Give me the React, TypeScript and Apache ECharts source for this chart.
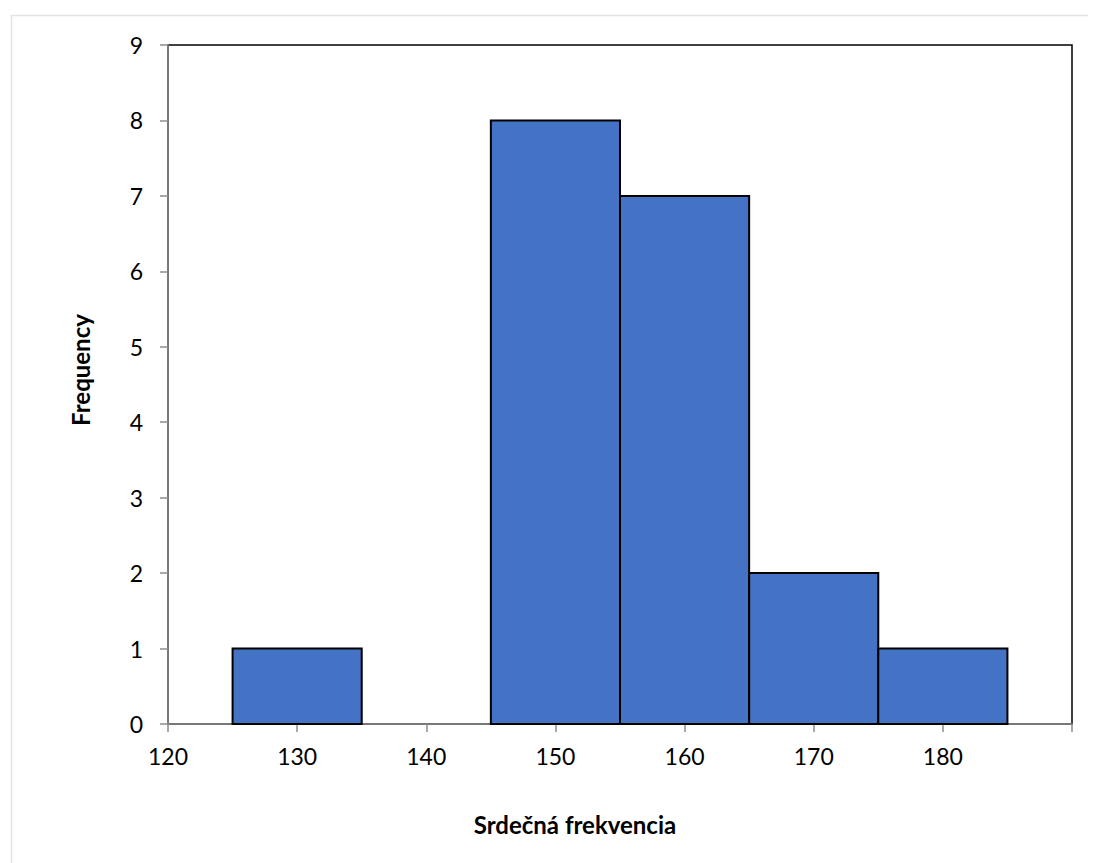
import React, { useEffect, useRef } from 'react';
import * as echarts from 'echarts';

// class bins of the histogram (lower edge, upper edge) and counts
const binStarts = [125, 145, 155, 165, 175];
const binEnds = [135, 155, 165, 175, 185];
const counts = [1, 8, 7, 2, 1];

const xTitle = 'Srdečná frekvencia';
const yTitle = 'Frequency';

const FONT = 'Lato, "Open Sans", sans-serif';

const App: React.FC = () => {
  const chartRef = useRef<HTMLDivElement | null>(null);

  useEffect(() => {
    if (!chartRef.current) return;
    const chart = echarts.init(chartRef.current, undefined, { renderer: 'svg' });

    const data = binStarts.map((s, i) => [s, binEnds[i], counts[i]]);

    chart.setOption({
      animation: false,
      backgroundColor: '#fff',
      textStyle: { fontFamily: FONT },
      grid: {
        left: 160,
        top: 37,
        width: 904,
        height: 679,
        show: true,
        borderColor: '#000',
        borderWidth: 1.5,
        backgroundColor: 'transparent',
      },
      xAxis: {
        type: 'value',
        min: 120,
        max: 190,
        interval: 10,
        axisLine: { show: true, lineStyle: { color: '#8c8c8c', width: 1.5 } },
        axisTick: { show: true, length: 8, lineStyle: { color: '#8c8c8c', width: 1.5 } },
        axisLabel: {
          margin: 20,
          fontSize: 23,
          color: '#000',
          fontFamily: FONT,
          formatter: (v: number) => (v >= 190 ? '' : String(v)),
        },
        splitLine: { show: false },
      },
      yAxis: {
        type: 'value',
        min: 0,
        max: 9,
        interval: 1,
        axisLine: { show: true, lineStyle: { color: '#8c8c8c', width: 1.5 } },
        axisTick: { show: true, length: 8, lineStyle: { color: '#8c8c8c', width: 1.5 } },
        axisLabel: { margin: 25, fontSize: 23, color: '#000', fontFamily: FONT },
        splitLine: { show: false },
      },
      series: [
        {
          type: 'custom',
          data,
          encode: { x: [0, 1], y: 2 },
          renderItem: (_params: any, api: any) => {
            const topLeft = api.coord([api.value(0), api.value(2)]);
            const bottomRight = api.coord([api.value(1), 0]);
            return {
              type: 'rect',
              shape: {
                x: topLeft[0],
                y: topLeft[1],
                width: bottomRight[0] - topLeft[0],
                height: bottomRight[1] - topLeft[1],
              },
              style: { fill: '#4472C4', stroke: '#000', lineWidth: 2 },
            };
          },
        },
      ],
      graphic: [
        {
          type: 'rect',
          left: 1,
          top: 5,
          shape: { width: 1200, height: 1000 },
          style: { fill: 'none', stroke: '#e3e3e3', lineWidth: 1.5 },
          silent: true,
          z: -10,
        },
        {
          type: 'text',
          x: 567,
          y: 816,
          style: {
            text: xTitle,
            fontSize: 24,
            fontWeight: 'bold',
            fontFamily: FONT,
            fill: '#000',
            align: 'center',
            verticalAlign: 'middle',
          },
        },
        {
          type: 'text',
          x: 72,
          y: 362,
          rotation: Math.PI / 2,
          style: {
            text: yTitle,
            fontSize: 24,
            fontWeight: 'bold',
            fontFamily: FONT,
            fill: '#000',
            align: 'center',
            verticalAlign: 'middle',
          },
        },
      ],
    });

    return () => {
      chart.dispose();
    };
  }, []);

  return <div ref={chartRef} style={{ width: '1088px', height: '855px' }} />;
};

export default App;
